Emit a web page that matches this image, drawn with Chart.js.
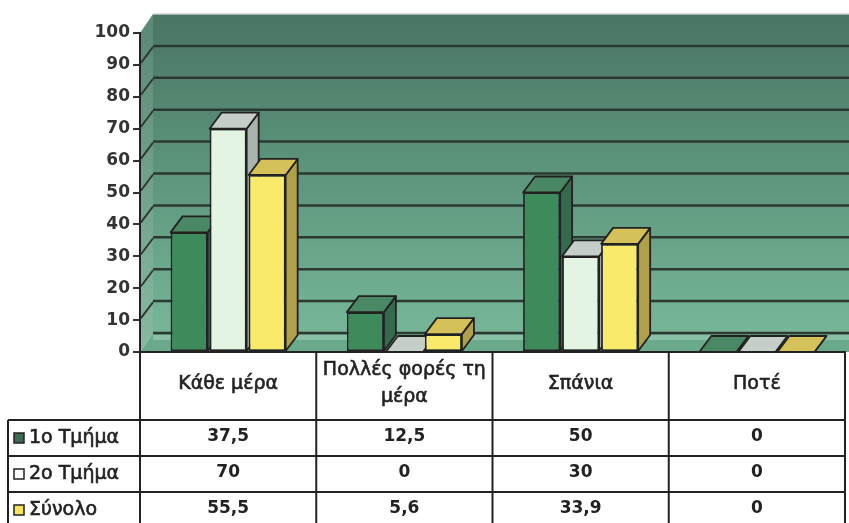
<!DOCTYPE html>
<html><head><meta charset="utf-8">
<script src="https://cdn.jsdelivr.net/npm/chart.js@4/dist/chart.umd.min.js"></script>
<style>html,body{margin:0;padding:0;background:#fff;overflow:hidden}</style>
</head><body>
<canvas id="c" width="849" height="523" style="display:block;width:849px;height:523px"></canvas>
<script>
// ---- data ----
const categories = ['Κάθε μέρα', ['Πολλές φορές τη', 'μέρα'], 'Σπάνια', 'Ποτέ'];
const seriesNames = ['1ο Τμήμα', '2ο Τμήμα', 'Σύνολο'];
const tmima1 = [37.5, 12.5, 50, 0];
const tmima2 = [70, 0, 30, 0];
const synolo = [55.5, 5.6, 33.9, 0];
const yMin = 0, yMax = 100, yStep = 10;

// ---- styles ----
const frontColors = ['#3d8b5b', '#e3f4e2', '#faea6c'];
const topColors   = ['#4a8764', '#c5cfc8', '#d5c15a'];
const sideColors  = ['#356a4f', '#aab4ae', '#b1a04a'];
const keyColors   = ['#3d6a52', '#ffffff', '#f7e45a'];
const lineCol = '#222';
const WDX = 13, WDY = -19;   // wall depth
const BDX = 12, BDY = -16;   // bar depth
const headerH = 68, rowH = 36;

function fmt(v){ return String(v).replace('.', ','); }
function semiBoldText(ctx, s, x, y) {
  ctx.fillText(s, x, y);
  ctx.lineWidth = 0.6; ctx.strokeStyle = ctx.fillStyle;
  ctx.strokeText(s, x, y);
}

const threeD = {
  id: 'threeD',
  beforeDraw(chart) {
    const {ctx, chartArea: a, scales: {y}} = chart;
    const y0 = y.getPixelForValue(yMin), yT = y.getPixelForValue(yMax);
    ctx.save();
    // back wall
    let g = ctx.createLinearGradient(0, yT + WDY, 0, y0 + WDY);
    g.addColorStop(0, '#4a7563'); g.addColorStop(0.45, '#5b927a'); g.addColorStop(1, '#76b697');
    ctx.fillStyle = g;
    ctx.fillRect(a.left + WDX, yT + WDY, a.right - a.left + 40, y0 - yT);
    ctx.fillStyle = 'rgba(200,210,205,0.7)';
    ctx.fillRect(a.left + WDX, yT + WDY - 1, a.right - a.left + 40, 2);
    // left side wall
    g = ctx.createLinearGradient(0, yT, 0, y0);
    g.addColorStop(0, '#5d8a77'); g.addColorStop(1, '#88baa2');
    ctx.fillStyle = g;
    ctx.beginPath();
    ctx.moveTo(a.left, yT); ctx.lineTo(a.left + WDX, yT + WDY);
    ctx.lineTo(a.left + WDX, y0 + WDY); ctx.lineTo(a.left, y0);
    ctx.closePath(); ctx.fill();
    // floor
    ctx.fillStyle = '#6aa98a';
    ctx.beginPath();
    ctx.moveTo(a.left, y0); ctx.lineTo(a.left + WDX, y0 + WDY);
    ctx.lineTo(a.right + 60, y0 + WDY); ctx.lineTo(a.right + 60, y0);
    ctx.closePath(); ctx.fill();
    ctx.fillStyle = 'rgba(160,210,185,0.6)';
    ctx.fillRect(a.left + WDX, y0 + WDY + 2, a.right - a.left + 40, 5);
    // gridlines
    ctx.strokeStyle = '#2c3832';
    for (const t of y.ticks) {
      if (t.value >= yMax) continue;
      const py = y.getPixelForValue(t.value);
      ctx.lineWidth = 2.5;
      ctx.beginPath();
      ctx.moveTo(a.left + WDX, py + WDY); ctx.lineTo(a.right + 60, py + WDY);
      ctx.stroke();
      if (t.value > yMin) {
        ctx.lineWidth = 1.8;
        ctx.beginPath();
        ctx.moveTo(a.left + 1, py - 2); ctx.lineTo(a.left + WDX, py + WDY + 1);
        ctx.stroke();
      }
    }
    ctx.restore();
  },
  beforeDatasetsDraw(chart) {
    const ctx = chart.ctx;
    const bars = [];
    chart.data.datasets.forEach((ds, di) => {
      chart.getDatasetMeta(di).data.forEach(el => {
        const p = el.getProps(['x', 'y', 'base', 'width'], true);
        bars.push({p, di});
      });
    });
    bars.sort((a, b) => a.p.x - b.p.x);
    ctx.save();
    ctx.strokeStyle = lineCol; ctx.lineWidth = 1.8; ctx.lineJoin = 'round';
    for (const {p, di} of bars) {
      const l = p.x - p.width / 2, r = p.x + p.width / 2, t = Math.min(p.y, p.base), b = Math.max(p.y, p.base);
      ctx.fillStyle = sideColors[di];
      ctx.beginPath();
      ctx.moveTo(r, t); ctx.lineTo(r + BDX, t + BDY); ctx.lineTo(r + BDX, b + BDY); ctx.lineTo(r, b);
      ctx.closePath(); ctx.fill(); ctx.stroke();
      ctx.fillStyle = topColors[di];
      ctx.beginPath();
      ctx.moveTo(l, t); ctx.lineTo(l + BDX, t + BDY); ctx.lineTo(r + BDX, t + BDY); ctx.lineTo(r, t);
      ctx.closePath(); ctx.fill(); ctx.stroke();
    }
    ctx.restore();
  },
  afterDraw(chart) {
    const {ctx, chartArea: a, scales: {x}} = chart;
    const H = chart.height;
    const top = a.bottom;
    const n = categories.length;
    const bounds = [];
    for (let i = 0; i <= n; i++) bounds.push(x.getPixelForValue(i - 0.5));
    const labelLeft = 8;
    const rowTops = [top + headerH, top + headerH + rowH, top + headerH + 2 * rowH];
    ctx.save();
    ctx.strokeStyle = lineCol; ctx.lineWidth = 2;
    for (const bx of bounds) {
      ctx.beginPath(); ctx.moveTo(bx, top); ctx.lineTo(bx, H); ctx.stroke();
    }
    ctx.beginPath(); ctx.moveTo(labelLeft, rowTops[0]); ctx.lineTo(labelLeft, H); ctx.stroke();
    for (const ry of rowTops) {
      ctx.beginPath(); ctx.moveTo(labelLeft, ry); ctx.lineTo(bounds[n], ry); ctx.stroke();
    }
    // header texts
    ctx.fillStyle = '#222';
    ctx.textAlign = 'center'; ctx.textBaseline = 'middle';
    ctx.font = '19px "DejaVu Sans"';
    categories.forEach((c, i) => {
      const cx = x.getPixelForValue(i);
      const lines = Array.isArray(c) ? c : [c];
      const lh = 27;
      const cy = top + headerH / 2 - 2;
      lines.forEach((ln, k) => semiBoldText(ctx, ln, cx, cy + (k - (lines.length - 1) / 2) * lh));
    });
    // rows
    const series = [tmima1, tmima2, synolo];
    series.forEach((vals, r) => {
      const cy = rowTops[r] + rowH / 2;
      ctx.fillStyle = keyColors[r];
      ctx.fillRect(14, cy - 5, 10, 10);
      ctx.lineWidth = 1.5; ctx.strokeStyle = lineCol;
      ctx.strokeRect(14, cy - 5, 10, 10);
      ctx.fillStyle = '#222';
      ctx.textAlign = 'left';
      ctx.font = '19px "DejaVu Sans"';
      semiBoldText(ctx, seriesNames[r], 29, cy);
      ctx.textAlign = 'center';
      ctx.font = 'bold 17px "DejaVu Sans"';
      vals.forEach((v, i) => ctx.fillText(fmt(v), x.getPixelForValue(i), cy - 1));
    });
    ctx.restore();
  }
};

new Chart(document.getElementById('c'), {
  type: 'bar',
  data: {
    labels: categories,
    datasets: seriesNames.map((name, i) => ({
      label: name,
      data: [tmima1, tmima2, synolo][i],
      backgroundColor: frontColors[i],
      borderColor: lineCol,
      borderWidth: 1.8,
      borderSkipped: false
    }))
  },
  options: {
    responsive: false,
    animation: false,
    devicePixelRatio: 1,
    categoryPercentage: 0.664,
    barPercentage: 0.95,
    layout: { padding: { top: 33, right: 4, left: 0, bottom: 0 } },
    plugins: { legend: { display: false }, tooltip: { enabled: false }, title: { display: false } },
    scales: {
      x: {
        ticks: { display: false },
        grid: { display: false },
        border: { display: true, color: lineCol, width: 2 },
        afterFit(s) { s.height = 171; s.paddingLeft = 0; s.paddingRight = 0; }
      },
      y: {
        min: yMin, max: yMax,
        ticks: { stepSize: yStep, color: '#333', padding: 3, font: { family: 'DejaVu Sans', weight: 'bold', size: 17 } },
        grid: { drawOnChartArea: false, drawTicks: true, tickLength: 7, color: '#333', lineWidth: 2 },
        border: { display: true, color: lineCol, width: 2 },
        afterFit(s) { s.width = 140; s.paddingTop = 0; s.paddingBottom = 0; }
      }
    }
  },
  plugins: [threeD]
});
</script>
</body></html>
